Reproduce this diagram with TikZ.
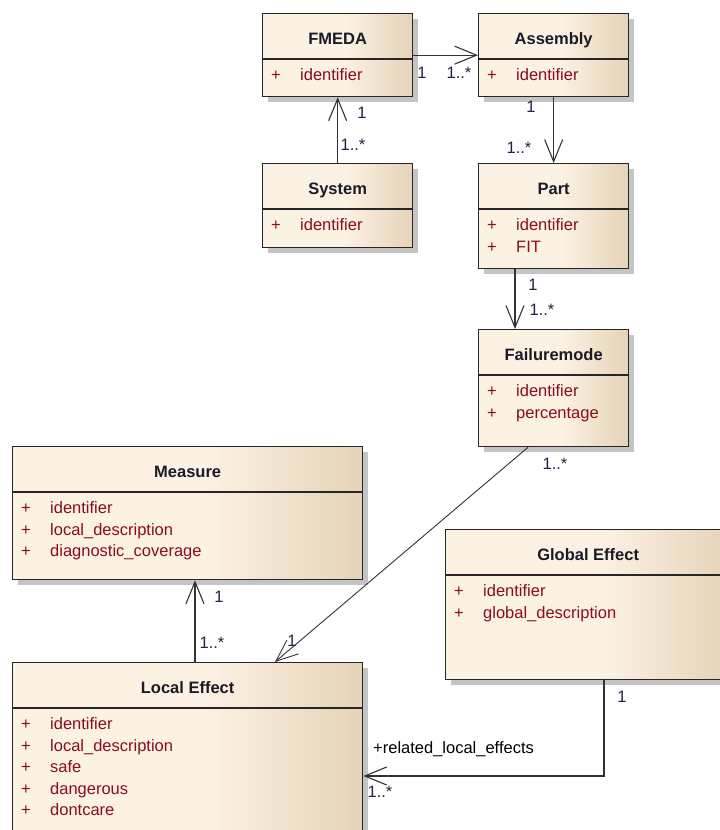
\documentclass[tikz,border=0pt]{standalone}
\usepackage{fontspec}
\setmainfont{Liberation Sans}
\usetikzlibrary{arrows.meta,shadows}

\definecolor{umlcream}{RGB}{252,242,228}
\definecolor{umltan}{RGB}{229,211,184}
\definecolor{umlborder}{RGB}{38,38,38}
\definecolor{umltitlecol}{RGB}{26,26,40}
\definecolor{umlattrcol}{RGB}{140,12,30}
\definecolor{umlmultcol}{RGB}{30,36,70}
\definecolor{umlshadow}{RGB}{196,196,196}

% cream body that turns tan towards the right edge of each class box
\pgfdeclarehorizontalshading{umlfill}{100bp}{color(0bp)=(umlcream); color(25bp)=(umlcream); color(52bp)=(umlcream); color(75bp)=(umltan); color(100bp)=(umltan)}

\tikzset{
  umlbox/.style={draw=umlborder, line width=1.3pt, shading=umlfill, anchor=north west,
    inner sep=0pt, drop shadow={shadow xshift=5pt, shadow yshift=-5pt, fill=umlshadow, opacity=1}},
  umlsep/.style={draw=umlborder, line width=1.3pt},
  umltitlestyle/.style={font=\fontsize{16.5}{19}\selectfont\bfseries, text=umltitlecol, anchor=base, inner sep=0pt},
  umlplus/.style={font=\fontsize{16.5}{19}\selectfont, text=umlattrcol, anchor=base, inner sep=0pt},
  umlattrstyle/.style={font=\fontsize{16.5}{19}\selectfont, text=umlattrcol, anchor=base west, inner sep=0pt},
  umlmult/.style={font=\fontsize{16.5}{19}\selectfont, text=umlmultcol, inner sep=0pt},
  umlrole/.style={font=\fontsize{16.5}{19}\selectfont, text=black, anchor=base west, inner sep=0pt},
  umlassoc/.style={draw=black!80, line width=1.1pt, -{Straight Barb[length=22pt,width=18pt]}},
}

% class box with a header compartment
\newcommand\umlclass[6]{%
  \node[umlbox, minimum width=#4pt, minimum height=#5pt] (#1) at (#2,#3) {};
  \draw[umlsep] ([yshift=-46pt]#1.north west) -- ([yshift=-46pt]#1.north east);
  \node[umltitlestyle] (#1-title) at ([yshift=-31pt]#1.north) {#6};
}
% one public attribute row
\newcommand\umlattr[3]{%
  \node[umlplus] (#1-p#2) at ([xshift=14pt,yshift={-67.5pt-21.6pt*(#2-1)}]#1.north west) {+};
  \node[umlattrstyle] (#1-a#2) at ([xshift=38pt,yshift={-67.5pt-21.6pt*(#2-1)}]#1.north west) {#3};
}

\begin{document}
\begin{tikzpicture}[x=1pt,y=-1pt]
\useasboundingbox (0,0) rectangle (720,830);
\fill[white] (0,0) rectangle (720,830);
\clip (0,0) rectangle (720,830);

\umlclass{fmeda}{262}{13}{150}{83}{FMEDA}
\umlattr{fmeda}{1}{identifier}

\umlclass{assembly}{478}{13}{150}{83}{Assembly}
\umlattr{assembly}{1}{identifier}

\umlclass{system}{262}{163}{150}{84}{System}
\umlattr{system}{1}{identifier}

\umlclass{part}{478}{163}{150}{105}{Part}
\umlattr{part}{1}{identifier}
\umlattr{part}{2}{FIT}

\umlclass{failure}{478}{329}{150}{117}{Failuremode}
\umlattr{failure}{1}{identifier}
\umlattr{failure}{2}{percentage}

\umlclass{measure}{12}{446}{350}{133}{Measure}
\umlattr{measure}{1}{identifier}
\umlattr{measure}{2}{local\_description}
\umlattr{measure}{3}{diagnostic\_coverage}

\umlclass{global}{445}{529}{285}{150}{Global Effect}
\umlattr{global}{1}{identifier}
\umlattr{global}{2}{global\_description}

\umlclass{local}{12}{662}{350}{190}{Local Effect}
\umlattr{local}{1}{identifier}
\umlattr{local}{2}{local\_description}
\umlattr{local}{3}{safe}
\umlattr{local}{4}{dangerous}
\umlattr{local}{5}{dontcare}

% associations
\draw[umlassoc] (fmeda.east) -- (assembly.west);
\node[umlmult] (m1a) at (422,73) {1};
\node[umlmult] (m1b) at (459,73) {1..*};

\draw[umlassoc] (system.north) -- (fmeda.south);
\node[umlmult] (m2a) at (362,113) {1};
\node[umlmult] (m2b) at (353,145) {1..*};

\draw[umlassoc] (assembly.south) -- (part.north);
\node[umlmult] (m3a) at (531,107) {1};
\node[umlmult] (m3b) at (519,148) {1..*};

\draw[umlassoc] ([xshift=37pt]part.south west) -- ([xshift=37pt]failure.north west);
\node[umlmult] (m4a) at (533,285) {1};
\node[umlmult] (m4b) at (542,310) {1..*};

\draw[umlassoc, line width=0.9pt] ([xshift=50pt]failure.south west) -- ([xshift=263pt]local.north west);
\node[umlmult] (m5a) at (555,464) {1..*};
\node[umlmult] (m5b) at (292,641) {1};

\draw[umlassoc] ([xshift=183pt]local.north west) -- ([xshift=183pt]measure.south west);
\node[umlmult] (m6a) at (219,597) {1};
\node[umlmult] (m6b) at (212,643) {1..*};

\draw[umlassoc] ([xshift=159pt]global.south west) |- ([yshift=-114pt]local.north east);
\node[umlmult] (m7a) at (622,697) {1};
\node[umlrole] (role) at (373,753) {+related\_local\_effects};
\node[umlmult] (m7b) at (380,792) {1..*};
\end{tikzpicture}
\end{document}
